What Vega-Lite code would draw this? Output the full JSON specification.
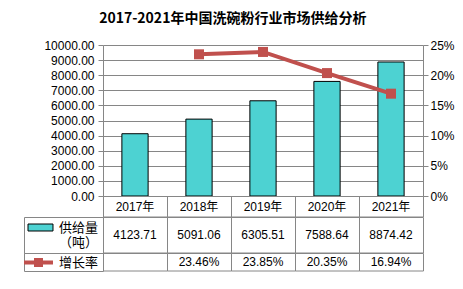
{
  "$schema": "https://vega.github.io/schema/vega-lite/v6.json",
  "background": "white",
  "padding": {"left": 23, "top": 12, "right": 0, "bottom": 0},
  "title": {"text": "2017-2021年中国洗碗粉行业市场供给分析", "font": "Noto Sans CJK SC", "fontSize": 14, "fontWeight": "bold", "color": "#000000", "anchor": "middle", "offset": 13, "dx": -6},
  "datasets": {
    "main": [
      {"year": "2017年", "supply": 4123.71, "rate": null},
      {"year": "2018年", "supply": 5091.06, "rate": 0.2346},
      {"year": "2019年", "supply": 6305.51, "rate": 0.2385},
      {"year": "2020年", "supply": 7588.64, "rate": 0.2035},
      {"year": "2021年", "supply": 8874.42, "rate": 0.1694}
    ]
  },
  "columns": 2,
  "spacing": 0,
  "bounds": "flush",
  "resolve": {"scale": {"x": "independent", "y": "independent", "color": "independent"}, "legend": {"color": "independent"}},
  "concat": [
    {
      "width": 79, "height": 151,
      "data": {"values": [{}]},
      "mark": "text",
      "encoding": {"text": {"value": ""}}
    },
    {
      "width": 320, "height": 151,
      "data": {"name": "main"},
      "layer": [
        {
          "mark": {"type": "bar", "fill": "#4dd2d2", "stroke": "#000000", "strokeWidth": 1, "width": {"band": 0.41}},
          "encoding": {
            "x": {"field": "year", "type": "nominal", "scale": {"paddingInner": 0, "paddingOuter": 0}, "axis": null},
            "y": {"field": "supply", "type": "quantitative", "scale": {"domain": [0, 10000], "nice": false},
              "axis": {"orient": "left", "title": null, "values": [0, 1000, 2000, 3000, 4000, 5000, 6000, 7000, 8000, 9000, 10000], "format": ".2f", "grid": true, "tickSize": 5, "labelPadding": 4}}
          }
        },
        {
          "mark": {"type": "line", "color": "#c0504d", "strokeWidth": 4, "point": {"shape": "square", "size": 100, "filled": true, "color": "#c0504d", "opacity": 1}},
          "encoding": {
            "x": {"field": "year", "type": "nominal", "scale": {"paddingInner": 0, "paddingOuter": 0}, "axis": null},
            "y": {"field": "rate", "type": "quantitative", "scale": {"domain": [0, 0.25], "nice": false},
              "axis": {"orient": "right", "title": null, "values": [0, 0.05, 0.1, 0.15, 0.2, 0.25], "format": ".0%", "grid": false, "tickSize": 5, "labelPadding": 2}}
          }
        }
      ],
      "resolve": {"scale": {"y": "independent"}}
    },
    {
      "width": 79, "height": 21,
      "data": {"values": [{}]},
      "mark": "text",
      "encoding": {"text": {"value": ""}}
    },
    {
      "width": 320, "height": 21,
      "data": {"name": "main"},
      "layer": [
        {
          "mark": {"type": "bar", "filled": false, "stroke": "#868686", "strokeWidth": 1, "xOffset": 0.5, "yOffset": 0.5},
          "encoding": {"x": {"field": "year", "type": "nominal", "scale": {"paddingInner": 0, "paddingOuter": 0}, "axis": null}}
        },
        {
          "mark": {"type": "text", "font": "Liberation Sans, Noto Sans CJK SC", "fontSize": 12, "color": "#000000"},
          "encoding": {"x": {"field": "year", "type": "nominal", "scale": {"paddingInner": 0, "paddingOuter": 0}, "axis": null}, "text": {"field": "year"}}
        }
      ]
    },
    {
      "width": 79, "height": 36,
      "view": {"stroke": "#868686"},
      "data": {"values": [{}]},
      "mark": "text",
      "encoding": {"text": {"value": ""}}
    },
    {
      "width": 320, "height": 36,
      "data": {"name": "main"},
      "layer": [
        {
          "mark": {"type": "bar", "filled": false, "stroke": "#868686", "strokeWidth": 1, "xOffset": 0.5, "yOffset": 0.5},
          "encoding": {"x": {"field": "year", "type": "nominal", "scale": {"paddingInner": 0, "paddingOuter": 0}, "axis": null}}
        },
        {
          "mark": {"type": "text", "font": "Liberation Sans", "fontSize": 12, "color": "#000000"},
          "encoding": {"x": {"field": "year", "type": "nominal", "scale": {"paddingInner": 0, "paddingOuter": 0}, "axis": null}, "text": {"field": "supply", "format": ".2f"}}
        },
        {
          "mark": {"type": "point", "filled": true, "opacity": 0},
          "encoding": {
            "color": {"datum": "供给量（吨）", "type": "nominal", "scale": {"range": ["#4dd2d2"]},
              "legend": {"orient": "left", "title": null, "offset": 0, "padding": 4, "symbolType": "M-3.57,-1H3.57V1H-3.57Z", "symbolSize": 49, "symbolFillColor": "#4dd2d2", "symbolStrokeColor": "#000000", "symbolStrokeWidth": 1, "symbolOpacity": 1, "labelFont": "Noto Sans CJK SC", "labelFontSize": 13, "labelColor": "#000000", "labelOffset": 12, "labelBaseline": "middle", "labelExpr": "['供给量', '（吨）']"}}
          }
        }
      ]
    },
    {
      "width": 79, "height": 18,
      "view": {"stroke": "#868686"},
      "data": {"values": [{}]},
      "mark": "text",
      "encoding": {"text": {"value": ""}}
    },
    {
      "width": 320, "height": 18,
      "data": {"name": "main"},
      "layer": [
        {
          "mark": {"type": "bar", "filled": false, "stroke": "#868686", "strokeWidth": 1, "xOffset": 0.5, "yOffset": 0.5},
          "encoding": {"x": {"field": "year", "type": "nominal", "scale": {"paddingInner": 0, "paddingOuter": 0}, "axis": null}}
        },
        {
          "transform": [{"filter": "datum.rate != null"}],
          "mark": {"type": "text", "font": "Liberation Sans", "fontSize": 12, "color": "#000000"},
          "encoding": {"x": {"field": "year", "type": "nominal", "scale": {"paddingInner": 0, "paddingOuter": 0}, "axis": null}, "text": {"field": "rate", "format": ".2%"}}
        },
        {
          "mark": {"type": "point", "filled": true, "opacity": 0},
          "encoding": {
            "color": {"datum": "增长率", "type": "nominal", "scale": {"range": ["#c0504d"]},
              "legend": {"orient": "left", "title": null, "offset": 1, "padding": 3, "symbolType": "M-3.22,-0.44H3.22V0.44H-3.22Z M-1,-1H1V1H-1Z", "symbolSize": 81, "symbolFillColor": "#c0504d", "symbolStrokeColor": "#c0504d", "symbolStrokeWidth": 0, "symbolOpacity": 1, "labelFont": "Noto Sans CJK SC", "labelFontSize": 13, "labelColor": "#000000", "labelOffset": 14}}
          }
        }
      ]
    }
  ],
  "config": {
    "view": {"stroke": null},
    "axis": {"labelFont": "Liberation Sans", "labelFontSize": 12, "labelColor": "#000000", "domainColor": "#868686", "tickColor": "#868686", "gridColor": "#868686"}
  }
}
